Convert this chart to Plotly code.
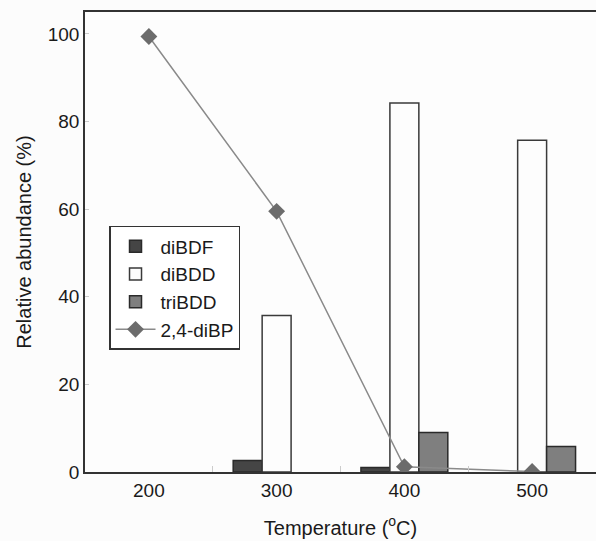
import plotly.graph_objects as go

temps = ["200", "300", "400", "500"]
diBDF = [None, 2.6, 1.0, None]
diBDD = [None, 35.7, 84.2, 75.7]
triBDD = [None, None, 9.0, 5.8]
diBP = [99.4, 59.5, 1.2, 0.1]

FONT = "Liberation Sans, Arial, sans-serif"

fig = go.Figure()
fig.add_trace(go.Bar(x=temps, y=diBDF, name="diBDF", legendgroup="a",
                     marker=dict(color="#454545", line=dict(color="#2a2a2a", width=1.5))))
fig.add_trace(go.Bar(x=temps, y=diBDD, name="diBDD", legendgroup="b",
                     marker=dict(color="#fdfdfd", line=dict(color="#3a3a3a", width=1.5))))
fig.add_trace(go.Bar(x=temps, y=triBDD, name="triBDD", legendgroup="c",
                     marker=dict(color="#7f7f7f", line=dict(color="#2a2a2a", width=1.5))))
fig.add_trace(go.Scatter(x=temps, y=diBP, name="2,4-diBP", legendgroup="d", mode="lines+markers",
                         line=dict(color="#8a8a8a", width=1.5),
                         marker=dict(symbol="diamond", size=13, color="#6c6c6c")))

fig.update_layout(
    width=596, height=541,
    margin=dict(l=85, r=0, t=12, b=69),
    paper_bgcolor="#fcfcfc", plot_bgcolor="#fdfdfd",
    font=dict(family=FONT, size=17, color="#1a1a1a"),
    barmode="group", bargap=0.32, bargroupgap=0,
    showlegend=True,
    legend=dict(x=0.047, y=0.535, xanchor="left", yanchor="top",
                bgcolor="#ffffff", bordercolor="#333333", borderwidth=1.5,
                font=dict(size=19), tracegroupgap=7, traceorder="normal",
                itemwidth=40),
    xaxis=dict(type="category", range=[-0.5, 3.5], showline=True, linecolor="#333333",
               linewidth=1.5, mirror=True, ticks="inside", tickson="boundaries",
               ticklen=6, tickcolor="#cccccc", showgrid=False, zeroline=False,
               tickfont=dict(size=19),
               title=dict(text="Temperature (<sup>o</sup>C)", standoff=21)),
    yaxis=dict(range=[0, 105], tickvals=[0, 20, 40, 60, 80, 100], showline=True,
               linecolor="#333333", linewidth=1.5, ticks="inside", ticklen=4,
               tickcolor="#cccccc", showgrid=False, zeroline=False,
               tickfont=dict(size=19),
               title=dict(text="Relative abundance (%)", standoff=11)),
)

fig.write_html("out.html")
